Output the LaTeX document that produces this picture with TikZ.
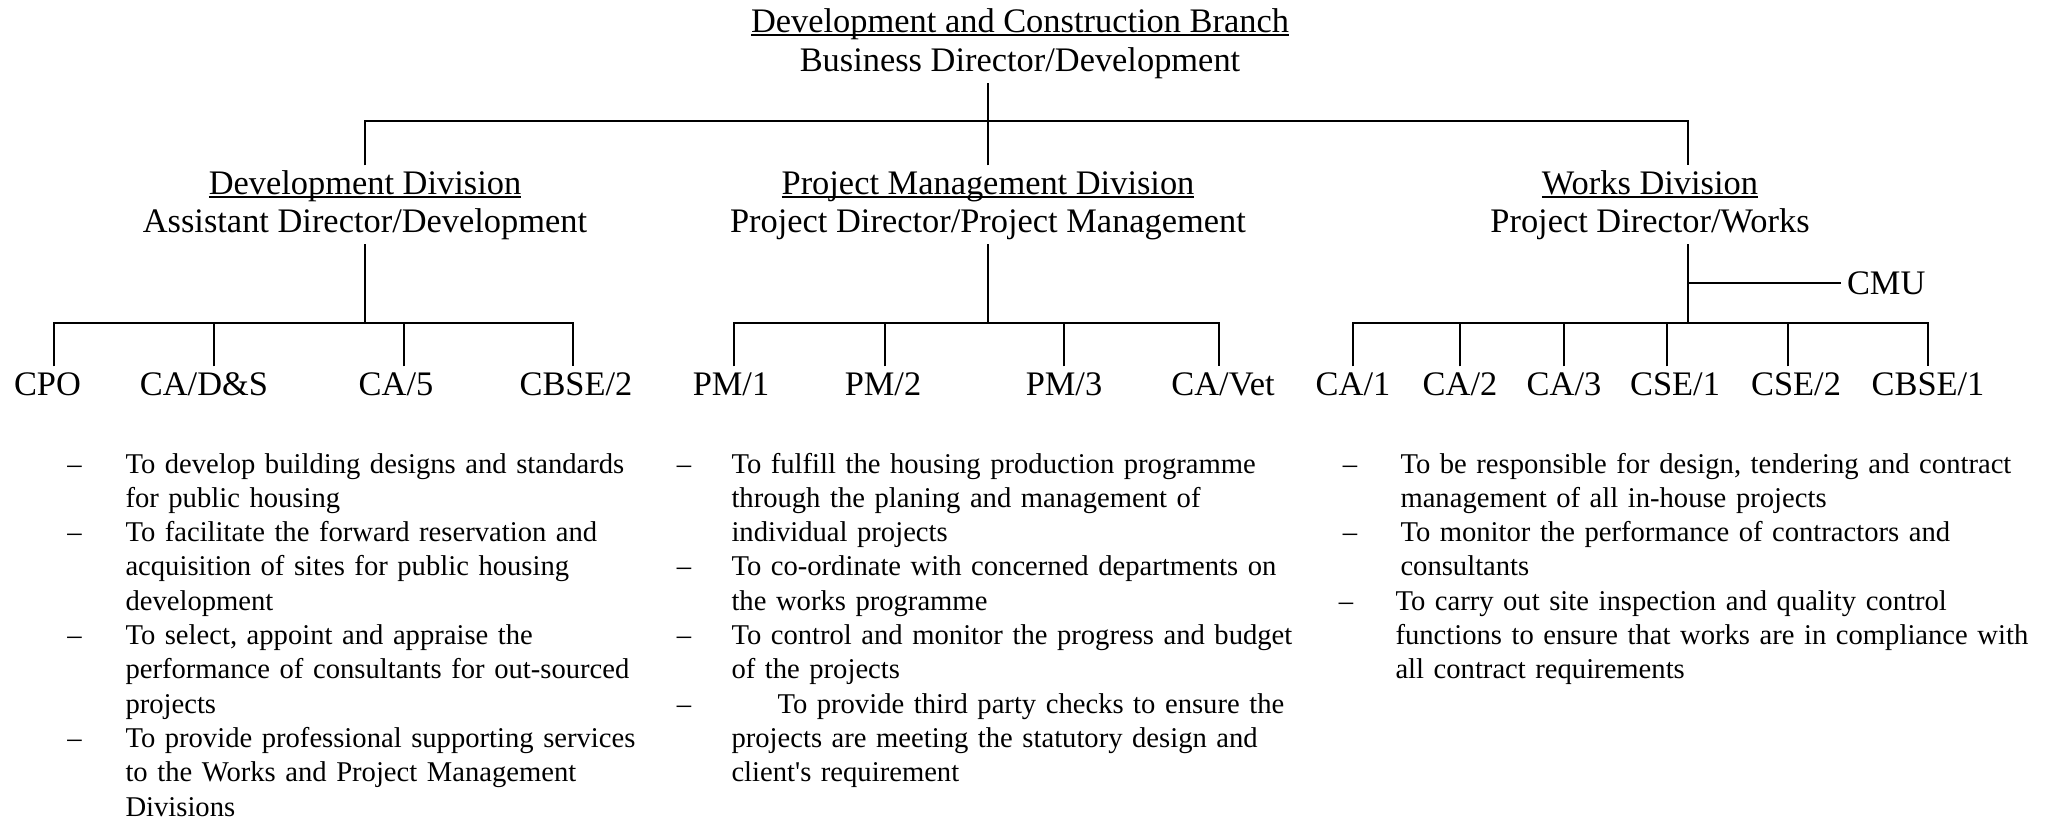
\documentclass[tikz,border=0pt]{standalone}
\usepackage{fontspec}
\setmainfont{Liberation Serif}
\newcommand{\headfont}{\fontsize{13.76pt}{15.6pt}\selectfont}
\newcommand{\dutyfont}{\fontsize{11.45pt}{13.72pt}\selectfont}
\tikzset{
  head/.style={font=\headfont, inner sep=0pt, outer xsep=0pt, outer ysep=2.4pt,
    text height=9.1pt, text depth=2.2pt, anchor=base},
  post/.style={font=\headfont, inner sep=0pt, outer sep=2.4pt,
    text height=9.1pt, text depth=2.2pt, anchor=base},
  link/.style={line width=0.7pt},
  uline/.style={line width=0.5pt},
  duty/.style={font=\dutyfont, text width=270pt, align=left, inner sep=0pt, anchor=base west},
  dashmark/.style={font=\dutyfont, inner sep=0pt, anchor=base},
}
\begin{document}
\begin{tikzpicture}[x=0.4pt, y=-0.4pt]
\useasboundingbox (0,0) rectangle (2046,820);

% branch
\node[head] (branch) at (1020,32) {Development and Construction Branch};
\node[head] (bdir) at (1020,71.5) {Business Director/Development};
\draw[uline] ([yshift=-1.2pt]branch.base west) -- ([yshift=-1.2pt]branch.base east);

% divisions
\node[head] (devdiv) at (365,194) {Development Division};
\node[head] (devrole) at (365,232.5) {Assistant Director/Development};
\node[head] (pmdiv) at (988,194) {Project Management Division};
\node[head] (pmrole) at (988,232.5) {Project Director/Project Management};
\node[head] (wkdiv) at (1650,194) {Works Division};
\node[head] (wkrole) at (1650,232.5) {Project Director/Works};
\draw[uline] ([yshift=-1.2pt]devdiv.base west) -- ([yshift=-1.2pt]devdiv.base east);
\draw[uline] ([yshift=-1.2pt]pmdiv.base west) -- ([yshift=-1.2pt]pmdiv.base east);
\draw[uline] ([yshift=-1.2pt]wkdiv.base west) -- ([yshift=-1.2pt]wkdiv.base east);

\coordinate (wkbar) at (1688,121);
\draw[link] (pmdiv.north) -- (pmdiv.north |- bdir.south);
\draw[link] (devdiv.north) |- (wkbar) -- (wkbar |- wkdiv.north);

% posts
\node[post] (cpo) at (47.5,395) {CPO};
\node[post] (cads) at (204,395) {CA/D\&S};
\node[post] (cafive) at (396,395) {CA/5};
\node[post] (cbsetwo) at (576,395) {CBSE/2};
\node[post] (pmone) at (731,395) {PM/1};
\node[post] (pmtwo) at (883,395) {PM/2};
\node[post] (pmthree) at (1064,395) {PM/3};
\node[post] (cavet) at (1223,395) {CA/Vet};
\node[post] (caone) at (1353,395) {CA/1};
\node[post] (catwo) at (1460,395) {CA/2};
\node[post] (cathree) at (1564,395) {CA/3};
\node[post] (cseone) at (1675,395) {CSE/1};
\node[post] (csetwo) at (1796,395) {CSE/2};
\node[post] (cbseone) at (1928,395) {CBSE/1};
\node[post, anchor=west, text depth=0pt] (cmu) at (1841,283) {CMU};

\coordinate (devsub) at (365,323);
\coordinate (pmsub) at (988,323);
\coordinate (wksub) at (1688,323);

\draw[link] (devrole.south) -- (devsub);
\draw[link] ([xshift=2.6pt]cpo.north) |- (devsub) -| ([xshift=-1.2pt]cbsetwo.north);
\draw[link] ([xshift=4pt]cads.north) -- ([xshift=4pt]cads.north |- devsub);
\draw[link] ([xshift=3.2pt]cafive.north) -- ([xshift=3.2pt]cafive.north |- devsub);

\draw[link] (pmrole.south) -- (pmsub);
\draw[link] ([xshift=1.2pt]pmone.north) |- (pmsub) -| ([xshift=-1.6pt]cavet.north);
\draw[link] ([xshift=0.8pt]pmtwo.north) -- ([xshift=0.8pt]pmtwo.north |- pmsub);
\draw[link] (pmthree.north) -- (pmthree.north |- pmsub);

\draw[link] (wkrole.south -| wksub) -- (wksub);
\draw[link] (cmu.west) -- (cmu.west -| wksub);
\draw[link] (caone.north) |- (wksub) -| (cbseone.north);
\draw[link] (catwo.north) -- (catwo.north |- wksub);
\draw[link] (cathree.north) -- (cathree.north |- wksub);
\draw[link] ([xshift=-3.2pt]cseone.north) -- ([xshift=-3.2pt]cseone.north |- wksub);
\draw[link] ([xshift=-3.2pt]csetwo.north) -- ([xshift=-3.2pt]csetwo.north |- wksub);

% duties - development
\node[dashmark] (ddone) at (74.5,473) {\textendash};
\node[duty] (dvone) at (125,473) {To develop building designs and standards\\for public housing};
\node[dashmark] (ddtwo) at (74.5,541.6) {\textendash};
\node[duty] (dvtwo) at (125,541.6) {To facilitate the forward reservation and\\acquisition of sites for public housing\\development};
\node[dashmark] (ddthree) at (74.5,644.5) {\textendash};
\node[duty] (dvthree) at (125,644.5) {To select, appoint and appraise the\\performance of consultants for out-sourced\\projects};
\node[dashmark] (ddfour) at (74.5,747.4) {\textendash};
\node[duty] (dvfour) at (125,747.4) {To provide professional supporting services\\to the Works and Project Management\\Divisions};

% duties - project management
\node[dashmark] (pdone) at (684,473) {\textendash};
\node[duty] (pmdone) at (731,473) {To fulfill the housing production programme\\through the planing and management of\\individual projects};
\node[dashmark] (pdtwo) at (684,575.9) {\textendash};
\node[duty] (pmdtwo) at (731,575.9) {To co-ordinate with concerned departments on\\the works programme};
\node[dashmark] (pdthree) at (684,644.5) {\textendash};
\node[duty] (pmdthree) at (731,644.5) {To control and monitor the progress and budget\\of the projects};
\node[dashmark] (pdfour) at (684,713.1) {\textendash};
\node[duty] (pmdfour) at (731,713.1) {\hspace*{18.4pt}To provide third party checks to ensure the\\projects are meeting the statutory design and\\client\textquotesingle s requirement};

% duties - works
\node[dashmark] (wdone) at (1350,473) {\textendash};
\node[duty] (wkdone) at (1400,473) {To be responsible for design, tendering and contract\\management of all in-house projects};
\node[dashmark] (wdtwo) at (1350,541.6) {\textendash};
\node[duty] (wkdtwo) at (1400,541.6) {To monitor the performance of contractors and\\consultants};
\node[dashmark] (wdthree) at (1346,610.2) {\textendash};
\node[duty] (wkdthree) at (1395,610.2) {To carry out site inspection and quality control\\functions to ensure that works are in compliance with\\all contract requirements};
\end{tikzpicture}
\end{document}
